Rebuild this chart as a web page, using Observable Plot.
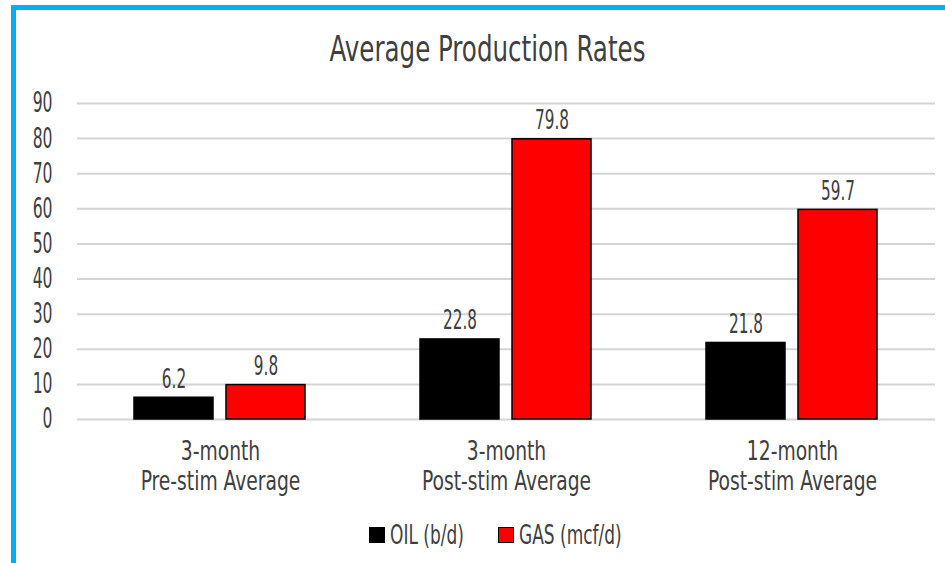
<!DOCTYPE html>
<html>
<head>
<meta charset="utf-8">
<script src="https://cdn.jsdelivr.net/npm/d3@7"></script>
<script src="https://cdn.jsdelivr.net/npm/@observablehq/plot@0.6"></script>
<style>
  html, body { margin: 0; padding: 0; background: #fff; }
  #wrap {
    position: relative; width: 945px; height: 563px; overflow: hidden;
    font-family: "DejaVu Sans Condensed", "DejaVu Sans", sans-serif;
    color: #404040;
  }
  #frame {
    position: absolute; left: 11px; top: 5px; width: 940px; height: 570px;
    border-left: 5px solid #00B0F0; border-top: 5px solid #00B0F0;
  }
  #title {
    position: absolute; left: 0; top: 32px; width: 975px; text-align: center;
    font-size: 35px; line-height: 35px; color: #404040;
  }
  #title span { display: inline-block; transform: scaleX(0.78); transform-origin: center; }
  #chart { position: absolute; left: 0; top: 85px; }
  #legend {
    position: absolute; top: 520px; left: 0; width: 990px; height: 30px;
    display: flex; justify-content: center; align-items: center; gap: 34px;
    font-size: 27px; line-height: 30px; color: #404040;
  }
  .item { display: flex; align-items: center; gap: 5px; }
  .sw { width: 14px; height: 14px; border: 1px solid #000; }
  .lt { display: inline-block; transform: scaleX(0.7); transform-origin: left center; white-space: nowrap; }
</style>
</head>
<body>
<div id="wrap">
  <div id="frame"></div>
  <div id="title"><span>Average Production Rates</span></div>
  <div id="chart"></div>
  <div id="legend"></div>
</div>
<script>
const categories = ["3-month\nPre-stim Average", "3-month\nPost-stim Average", "12-month\nPost-stim Average"];
const seriesNames = ["OIL (b/d)", "GAS (mcf/d)"];
const oilValues = [6.2, 22.8, 21.8];
const gasValues = [9.8, 79.8, 59.7];
const seriesColors = ["#000000", "#FF0000"];
const yTicks = [0, 10, 20, 30, 40, 50, 60, 70, 80, 90];

const data = [];
categories.forEach((c, i) => {
  data.push({category: c, series: seriesNames[0], value: oilValues[i]});
  data.push({category: c, series: seriesNames[1], value: gasValues[i]});
});

const font = '"DejaVu Sans Condensed", "DejaVu Sans", sans-serif';

const chart = Plot.plot({
  width: 945,
  height: 420,
  marginLeft: 77,
  marginRight: 10,
  marginTop: 18,
  marginBottom: 86,
  style: {fontFamily: font, color: "#404040", background: "transparent"},
  fx: {domain: categories, padding: 0, label: null},
  x: {domain: seriesNames, paddingInner: 0.141, paddingOuter: 0.62, axis: null},
  y: {domain: [0, 90], ticks: yTicks, label: null},
  color: {domain: seriesNames, range: seriesColors},
  marks: [
    Plot.ruleY(yTicks, {stroke: "#d4d4d4", strokeWidth: 2}),
    Plot.axisY({ticks: yTicks, tickSize: 0, tickPadding: 25, fontSize: 28, label: null, anchor: "left"}),
    Plot.axisFx({anchor: "bottom", tickSize: 0, tickPadding: 19, fontSize: 27.4, lineHeight: 1.095, label: null}),
    Plot.barY(data, {fx: "category", x: "series", y: "value", fill: "series", stroke: "#000", strokeWidth: 1.5}),
    Plot.text(data, {fx: "category", x: "series", y: "value", text: d => d.value.toFixed(1), dy: -10, lineAnchor: "bottom", fontSize: 27.4, fill: "#404040"})
  ]
});
document.getElementById("chart").appendChild(chart);

// horizontally condense glyphs around their anchor points
function squeeze(selector, sx) {
  chart.querySelectorAll(selector).forEach(t => {
    let tr = t.getAttribute("transform");
    if (!tr) {
      const x = t.getAttribute("x") || 0, y = t.getAttribute("y") || 0;
      t.removeAttribute("x"); t.removeAttribute("y");
      tr = `translate(${x},${y})`;
    }
    t.setAttribute("transform", `${tr} scale(${sx},1)`);
  });
}
squeeze('[aria-label="y-axis tick label"] text', 0.62);
squeeze('[aria-label="fx-axis tick label"] text', 0.76);
squeeze('[aria-label="text"] text', 0.62);

const legend = document.getElementById("legend");
seriesNames.forEach((s, i) => {
  const item = document.createElement("div");
  item.className = "item";
  const sw = document.createElement("div");
  sw.className = "sw";
  sw.style.background = seriesColors[i];
  const t = document.createElement("span");
  t.className = "lt";
  t.textContent = s;
  item.appendChild(sw); item.appendChild(t);
  legend.appendChild(item);
  const w = t.getBoundingClientRect().width / 0.7;
  t.style.marginRight = (-(1 - 0.7) * w) + "px";
});
</script>
</body>
</html>
